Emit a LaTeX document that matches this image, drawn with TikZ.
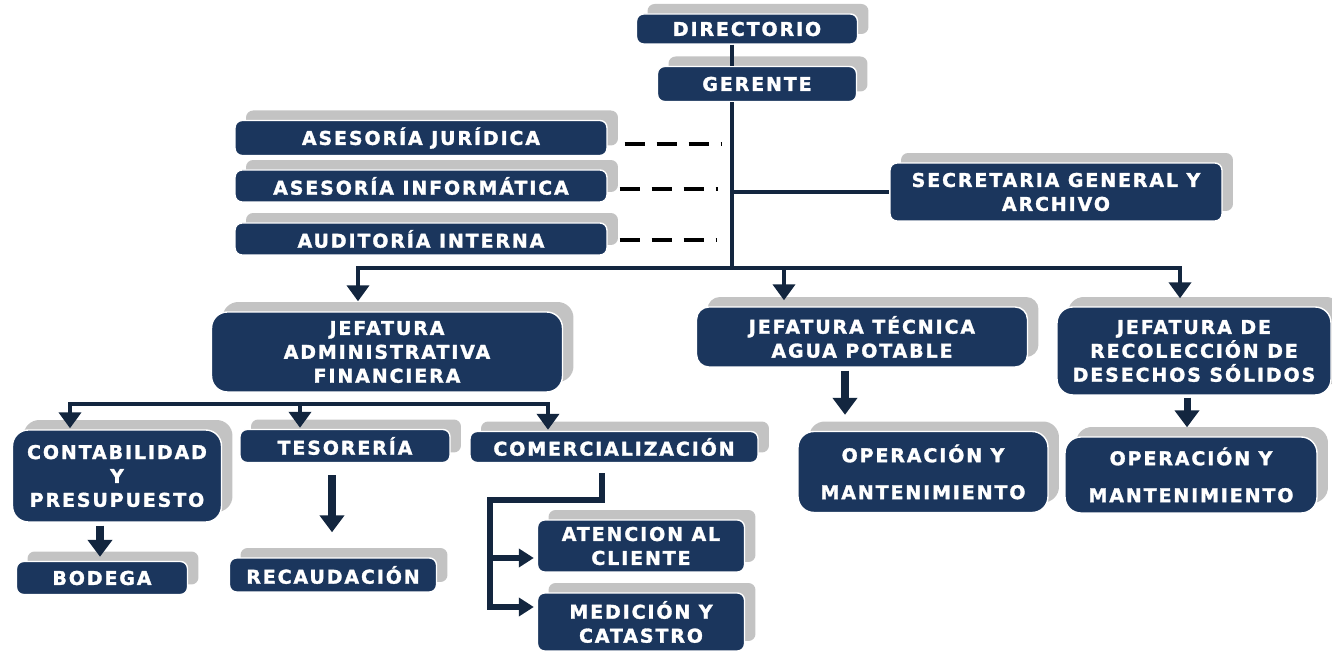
\documentclass[tikz,border=0pt]{standalone}
\usepackage{fontspec}
\newfontfamily\boxfont[LetterSpace=10,FakeBold=1.6]{DejaVu Sans Bold}
\usetikzlibrary{arrows.meta,shadows,calc}
\definecolor{boxblue}{HTML}{1B365D}
\definecolor{linkblue}{HTML}{13263F}
\definecolor{shadowgray}{HTML}{C3C3C3}

\begin{document}
\begin{tikzpicture}[x=0.02cm, y=-0.02cm, >={Triangle[width=0.44cm,length=0.32cm]}, thick]
		\tikzstyle{unit}=[fill=boxblue,draw=white,line width=0.8pt,rounded corners=4pt,text=white,font=\boxfont\fontsize{10.8}{13.6}\selectfont,align=center,inner sep=0pt,drop shadow={shadow xshift=0.22cm,shadow yshift=0.2cm,fill=shadowgray,opacity=1}]
		\tikzstyle{bigunit}=[unit,rounded corners=9pt]
		\tikzstyle{link}=[draw=linkblue,line width=2.5pt]
		\tikzstyle{flow}=[link,->]
		\tikzstyle{block}=[draw=linkblue,line width=4pt,-{Triangle[width=0.48cm,length=0.34cm]}]
		\tikzstyle{advice}=[draw=black,line width=2.2pt,dash pattern=on 0.4cm off 0.24cm]
		\useasboundingbox (0,0) rectangle (1332,651);
		\node[unit,minimum width=4.42cm,minimum height=0.6cm]    (dir)  at (747,29)   {DIRECTORIO};
		\node[unit,minimum width=3.98cm,minimum height=0.7cm]    (ger)  at (757,84)   {GERENTE};
		\node[unit,minimum width=7.44cm,minimum height=0.7cm]    (asj)  at (421,138)  {ASESORÍA JURÍDICA};
		\node[unit,minimum width=7.44cm,minimum height=0.64cm]   (asi)  at (421,186)  {ASESORÍA INFORMÁTICA};
		\node[unit,minimum width=7.44cm,minimum height=0.64cm]   (aud)  at (421,239)  {AUDITORÍA INTERNA};
		\node[unit,minimum width=6.64cm,minimum height=1.16cm]   (sec)  at (1056,192) {SECRETARIA GENERAL Y\\ARCHIVO};
		\node[bigunit,minimum width=7.02cm,minimum height=1.6cm] (jaf)  at (387,352)  {JEFATURA\\ADMINISTRATIVA\\FINANCIERA};
		\node[unit,rounded corners=7pt,minimum width=6.62cm,minimum height=1.2cm] (jtec) at (862,337) {JEFATURA TÉCNICA\\AGUA POTABLE};
		\node[bigunit,minimum width=5.48cm,minimum height=1.76cm] (jrec) at (1194,351) {JEFATURA DE\\RECOLECCIÓN DE\\DESECHOS SÓLIDOS};
		\node[bigunit,minimum width=5cm,minimum height=1.62cm]    (opm1) at (923,472)  {OPERACIÓN Y\\[0.26cm]MANTENIMIENTO};
		\node[bigunit,minimum width=5.04cm,minimum height=1.52cm] (opm2) at (1191,475) {OPERACIÓN Y\\[0.26cm]MANTENIMIENTO};
		\node[bigunit,minimum width=4.18cm,minimum height=1.84cm] (cont) at (117,476)  {CONTABILIDAD\\Y\\PRESUPUESTO};
		\node[unit,minimum width=4.2cm,minimum height=0.66cm]    (tes)  at (345,446)  {TESORERÍA};
		\node[unit,minimum width=5.76cm,minimum height=0.62cm]   (com)  at (614,447)  {COMERCIALIZACIÓN};
		\node[unit,minimum width=3.42cm,minimum height=0.66cm]   (bod)  at (102,578)  {BODEGA};
		\node[unit,minimum width=4.14cm,minimum height=0.68cm]   (rec)  at (333,575)  {RECAUDACIÓN};
		\node[unit,minimum width=4.14cm,minimum height=1.04cm]   (ate)  at (641,546)  {ATENCION AL\\CLIENTE};
		\node[unit,minimum width=4.14cm,minimum height=1.16cm]   (med)  at (641,622)  {MEDICIÓN Y\\CATASTRO};
		\coordinate (hub) at (732,268);
		\coordinate (adm) at (387,404);
		\coordinate (mkt) at (490,500);
		\coordinate (jaf in)  at ($(jaf.north)+(-29,-10)$);
		\coordinate (jtec in) at ($(jtec.north)+(-78,-6)$);
		\coordinate (jrec in) at ($(jrec.north)+(-14,-8)$);
		\coordinate (cont in) at ($(cont.north)+(-47,-1)$);
		\coordinate (tes in)  at ($(tes.north)+(-45,-1)$);
		\coordinate (com in)  at ($(com.north)+(-66,-1)$);
		\coordinate (ate in)  at ($(ate.west)+(-3,12)$);
		\coordinate (med in)  at ($(med.west)+(-3,-15)$);
		% trunk and staff
		\draw[link] (dir.south -| hub) -- (ger.north -| hub);
		\draw[link] (ger.south -| hub) -- (hub);
		\draw[link] (hub |- sec.west) -- (sec.west);
		\draw[advice] ($(asj.east)+(17,6)$) -- ($(asj.east -| hub)+(-10,6)$);
		\draw[advice] ($(asi.east)+(12,3)$) -- ($(asi.east -| hub)+(-14,3)$);
		\draw[advice] ($(aud.east)+(12,1)$) -- ($(aud.east -| hub)+(-16,1)$);
		% jefaturas
		\draw[flow] (hub) -| (jaf in);
		\draw[flow] (hub) -| (jrec in);
		\draw[flow] (hub -| jtec in) -- (jtec in);
		\draw[block] ($(jtec.south)+(-17,3)$) -- ($(opm1.north)+(-78,-16)$);
		\draw[block] ($(jrec.south)+(-7,2)$) -- ($(opm2.north)+(-4,-9)$);
		% area administrativa
		\draw[flow] (adm) -| (cont in);
		\draw[flow] (adm) -| (com in);
		\draw[flow] (adm -| tes in) -- (tes in);
		\draw[block] ($(cont.south)+(-17,3)$) -- ($(bod.north)+(-2,-4)$);
		\draw[block] ($(tes.south)+(-13,12)$) -- ($(rec.north)+(-1,-25)$);
		\draw[flow,line width=3pt,>={Triangle[width=0.36cm,length=0.3cm]}] ($(com.south)+(-12,10)$) |- (mkt) |- (med in);
		\draw[flow,line width=3pt,>={Triangle[width=0.36cm,length=0.3cm]}] (mkt |- ate in) -- (ate in);
	\end{tikzpicture}
\end{document}
